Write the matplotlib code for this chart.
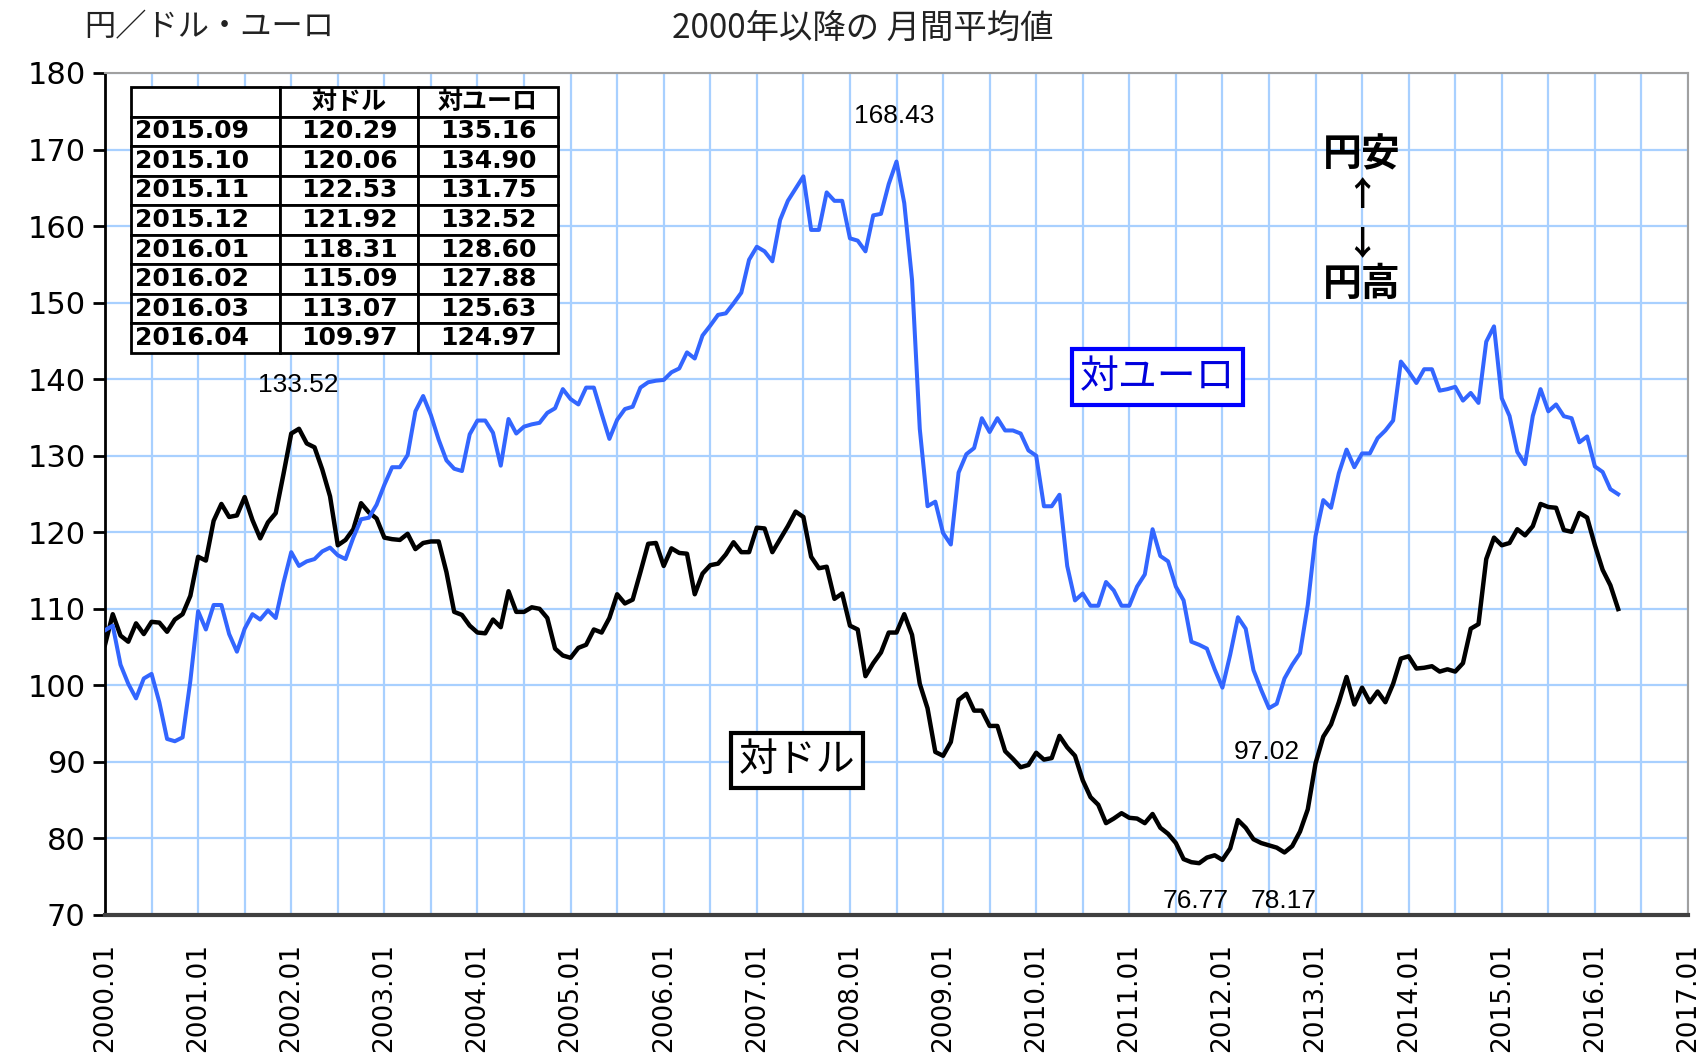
import numpy as np
import matplotlib
matplotlib.use("Agg")
import matplotlib.pyplot as plt
from matplotlib.ticker import MultipleLocator

plt.rcParams['font.family'] = ['DejaVu Sans', 'Noto Sans CJK JP']

# monthly averages, 2000.01 - 2016.04 (yen per USD / per EUR)
usd = [
    105.3, 109.3, 106.5, 105.7, 108.1, 106.7, 108.3, 108.2, 107.0, 108.6, 109.3, 111.7,
    116.8, 116.3, 121.5, 123.7, 122.0, 122.2, 124.6, 121.6, 119.2, 121.3, 122.5, 127.6,
    132.9, 133.52, 131.6, 131.1, 128.2, 124.7, 118.3, 119.0, 120.4, 123.8, 122.6, 121.8,
    119.3, 119.1, 119.0, 119.8, 117.8, 118.6, 118.8, 118.8, 114.8, 109.6, 109.2, 107.8,
    106.9, 106.8, 108.6, 107.6, 112.3, 109.6, 109.6, 110.2, 110.0, 108.8, 104.8, 103.9,
    103.6, 104.9, 105.3, 107.3, 106.9, 108.8, 111.9, 110.7, 111.2, 114.8, 118.5, 118.6,
    115.6, 117.9, 117.3, 117.2, 111.9, 114.6, 115.7, 115.9, 117.1, 118.7, 117.4, 117.4,
    120.6, 120.5, 117.4, 119.1, 120.8, 122.7, 122.0, 116.8, 115.3, 115.5, 111.3, 112.0,
    107.8, 107.3, 101.2, 102.9, 104.3, 106.9, 106.9, 109.3, 106.6, 100.2, 97.0, 91.3,
    90.8, 92.6, 98.1, 98.9, 96.7, 96.7, 94.7, 94.7, 91.4, 90.4, 89.3, 89.6,
    91.2, 90.3, 90.5, 93.4, 91.9, 90.8, 87.6, 85.4, 84.4, 82.0, 82.6, 83.3,
    82.7, 82.6, 82.0, 83.2, 81.4, 80.6, 79.4, 77.3, 76.9, 76.77, 77.5, 77.8,
    77.2, 78.7, 82.4, 81.4, 79.9, 79.4, 79.1, 78.8, 78.17, 79.0, 80.9, 83.8,
    89.8, 93.3, 94.9, 97.8, 101.1, 97.5, 99.7, 97.8, 99.2, 97.8, 100.2, 103.5,
    103.8, 102.2, 102.3, 102.5, 101.8, 102.1, 101.8, 102.9, 107.4, 108.0, 116.5, 119.3,
    118.3, 118.6, 120.4, 119.6, 120.8, 123.7, 123.3, 123.2, 120.29, 120.06, 122.53, 121.92,
    118.31, 115.09, 113.07, 109.97,
]
eur = [
    107.2, 107.8, 102.7, 100.2, 98.3, 100.9, 101.5, 97.8, 93.0, 92.7, 93.2, 100.6,
    109.7, 107.3, 110.5, 110.5, 106.7, 104.4, 107.4, 109.3, 108.6, 109.8, 108.8, 113.4,
    117.4, 115.6, 116.2, 116.5, 117.5, 118.0, 117.0, 116.5, 119.3, 121.7, 121.9, 123.6,
    126.2, 128.5, 128.5, 130.1, 135.8, 137.8, 135.3, 132.1, 129.4, 128.3, 128.0, 132.8,
    134.6, 134.6, 133.0, 128.7, 134.8, 132.9, 133.8, 134.1, 134.3, 135.6, 136.2, 138.7,
    137.4, 136.7, 138.9, 138.9, 135.5, 132.2, 134.7, 136.1, 136.4, 138.9, 139.6, 139.8,
    139.9, 140.9, 141.4, 143.5, 142.7, 145.7, 147.0, 148.4, 148.6, 149.9, 151.3, 155.6,
    157.3, 156.7, 155.4, 160.8, 163.3, 164.9, 166.5, 159.5, 159.5, 164.4, 163.3, 163.3,
    158.4, 158.1, 156.7, 161.4, 161.6, 165.5, 168.43, 163.0, 153.0, 133.5, 123.4, 124.0,
    119.9, 118.4, 127.8, 130.2, 131.0, 134.9, 133.1, 134.9, 133.3, 133.3, 132.9, 130.7,
    130.0, 123.4, 123.4, 124.9, 115.6, 111.1, 112.0, 110.4, 110.4, 113.5, 112.4, 110.4,
    110.4, 112.9, 114.5, 120.4, 116.9, 116.2, 112.9, 111.1, 105.7, 105.3, 104.8, 102.1,
    99.7, 104.0, 108.9, 107.4, 102.0, 99.4, 97.02, 97.6, 100.9, 102.7, 104.2, 110.5,
    119.5, 124.2, 123.2, 127.7, 130.8, 128.5, 130.3, 130.3, 132.3, 133.3, 134.6, 142.3,
    141.0, 139.5, 141.3, 141.3, 138.5, 138.7, 139.0, 137.2, 138.2, 136.9, 144.9, 146.9,
    137.5, 135.2, 130.5, 128.9, 135.2, 138.7, 135.8, 136.7, 135.16, 134.90, 131.75, 132.52,
    128.60, 127.88, 125.63, 124.97,
]
years = list(range(2000, 2018))
tick_labels = [f"{y}.01" for y in years]

x = 2000 + np.arange(len(usd)) / 12.0

fig = plt.figure(figsize=(17.02, 10.59), dpi=100)
ax = fig.add_axes([105 / 1702, 1 - 915 / 1059, 1583 / 1702, 842 / 1059])

ax.plot(x, usd, color='black', lw=3.2, zorder=3)
ax.plot(x, eur, color='#3366ff', lw=2.9, zorder=4)

ax.set_xlim(2000, 2017)
ax.set_ylim(70, 180)
ax.set_xticks(years)
ax.set_xticklabels(tick_labels, rotation=90, fontsize=19)
ax.xaxis.set_minor_locator(MultipleLocator(0.5))
ax.yaxis.set_major_locator(MultipleLocator(10))
ax.tick_params(axis='y', labelsize=22, length=9, width=2, direction='out', pad=5)
ax.tick_params(axis='x', which='both', length=0, pad=20)
ax.grid(True, which='both', color='#a8d0ff', lw=1.6, zorder=0)
ax.set_axisbelow(True)

ax.spines['left'].set_linewidth(2)
ax.spines['left'].set_color('black')
ax.spines['bottom'].set_linewidth(3)
ax.spines['bottom'].set_color('#404040')
for s in ('top', 'right'):
    ax.spines[s].set_color('#a0a0a0')
    ax.spines[s].set_linewidth(1.5)

# titles
fig.text(84 / 1702, 1 - 27 / 1059, '円／ドル・ユーロ', fontsize=22.5,
         family=['Noto Sans CJK JP'], va='center', ha='left', color='#222222')
fig.text(863 / 1702, 1 - 28 / 1059, '2000年以降の 月間平均値', fontsize=24,
         family=['Noto Sans CJK JP'], va='center', ha='center', color='#222222')

# value annotations
num_font = dict(family='Liberation Sans', fontsize=19, ha='center', va='center')
ax.text(2002.08, 139.2, '133.52', **num_font)
ax.text(2008.48, 174.4, '168.43', **num_font)
ax.text(2012.48, 91.3, '97.02', **num_font)
ax.text(2011.71, 71.8, '76.77', **num_font)
ax.text(2012.66, 71.8, '78.17', **num_font)

# series labels
ax.text(2011.30, 140.3, '対ユーロ', fontsize=28, color='#0000dd',
        family=['Noto Sans CJK JP'], ha='center', va='center', zorder=6,
        bbox=dict(boxstyle='square,pad=0.2', fc='white', ec='#0000ff', lw=3))
ax.text(2007.43, 90.2, '対ドル', fontsize=28, color='black',
        family=['Noto Sans CJK JP'], ha='center', va='center', zorder=6,
        bbox=dict(boxstyle='square,pad=0.2', fc='white', ec='black', lw=3))

# yen weak / strong marker
cjk_b = dict(family=['Noto Sans CJK JP'], fontweight='bold', ha='center', va='center', zorder=6)
ax.text(2013.50, 169.3, '円安', fontsize=28, **cjk_b)
ax.text(2013.50, 164.0, '↑', fontsize=24, **cjk_b)
ax.text(2013.50, 157.6, '↓', fontsize=24, **cjk_b)
ax.text(2013.50, 152.4, '円高', fontsize=28, **cjk_b)

# latest values table
n = 8
rows = []
for i in range(len(usd) - n, len(usd)):
    yy = 2000 + i // 12
    mm = i % 12 + 1
    rows.append([f"{yy}.{mm:02d}", f"{usd[i]:.2f}", f"{eur[i]:.2f}"])
cells = [['', '対ドル', '対ユーロ']] + rows

t_left, t_right = (131 - 105) / 1583, (558 - 105) / 1583
t_top, t_bot = 1 - (87 - 73) / 842, 1 - (353 - 73) / 842
tab = ax.table(cellText=cells, cellLoc='center',
               colWidths=[149, 138, 140],
               bbox=[t_left, t_bot, t_right - t_left, t_top - t_bot], zorder=7)
tab.auto_set_font_size(False)
for (r, c), cell in tab.get_celld().items():
    cell.set_linewidth(2)
    cell.set_edgecolor('black')
    cell.set_facecolor('white')
    txt = cell.get_text()
    txt.set_fontweight('bold')
    if r == 0:
        txt.set_fontsize(18)
        txt.set_family(['Noto Sans CJK JP'])
    else:
        txt.set_fontsize(18)
    if c == 0 and r > 0:
        cell.set_text_props(ha='left')
        cell.PAD = 0.03

fig.savefig('out.png', dpi=100)
